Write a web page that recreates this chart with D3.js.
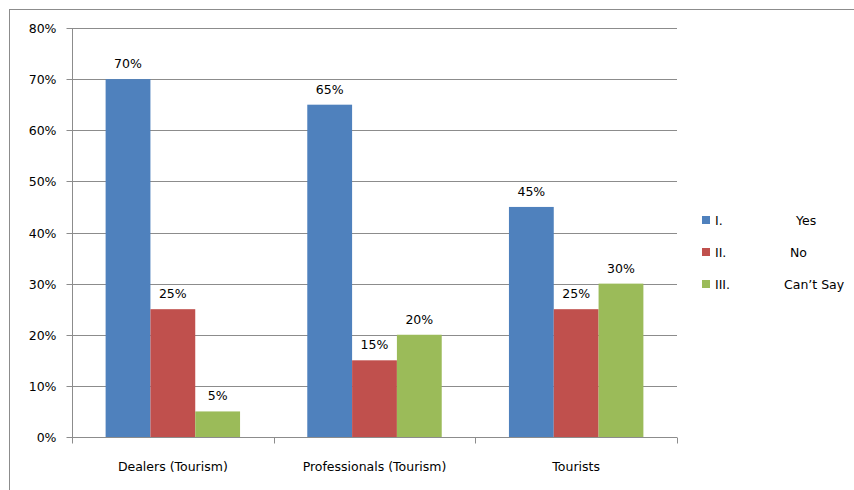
<!DOCTYPE html>
<html>
<head>
<meta charset="utf-8">
<script src="https://cdn.jsdelivr.net/npm/d3@7"></script>
<style>
  body { margin: 0; background: #fff; }
  text { font-family: "DejaVu Sans", sans-serif; fill: #000; }
</style>
</head>
<body>
<div id="chart"></div>
<script>
// data
const categories = ["Dealers (Tourism)", "Professionals (Tourism)", "Tourists"];
const seriesNames = ["I.", "II.", "III."];
const seriesAnswers = ["Yes", "No", "Can\u2019t Say"];
const yesValues = [70, 65, 45];
const noValues = [25, 15, 25];
const cantSayValues = [5, 20, 30];
const yTicks = [0, 10, 20, 30, 40, 50, 60, 70, 80];
const colors = ["#4F81BD", "#C0504D", "#9BBB59"];

const width = 854;
const height = 490;
const margin = { left: 72, right: 177, top: 28, bottom: 53 };
const fontSize = "12.5px";

const svg = d3.select("#chart")
  .append("svg")
  .attr("width", width)
  .attr("height", height);

// outer chart border (only top and left show inside the window)
svg.append("rect")
  .attr("x", 9.5)
  .attr("y", 9.5)
  .attr("width", width + 20)
  .attr("height", height + 20)
  .attr("fill", "none")
  .attr("stroke", "#8c8c8c");

const series = [yesValues, noValues, cantSayValues];

let yScale = d3.scaleLinear()
  .domain([0, 80])
  .range([height - margin.bottom, margin.top]);

let xScale = d3.scaleBand()
  .domain(d3.range(categories.length))
  .range([margin.left, width - margin.right]);

let inner = d3.scaleBand()
  .domain(d3.range(series.length))
  .range([0, xScale.bandwidth()])
  .paddingOuter(0.75)
  .paddingInner(0);

// gridlines
svg.append("g")
  .selectAll("line")
  .data(yTicks.filter(t => t > 0))
  .enter()
  .append("line")
  .attr("x1", margin.left)
  .attr("x2", width - margin.right)
  .attr("y1", d => Math.round(yScale(d)) + 0.5)
  .attr("y2", d => Math.round(yScale(d)) + 0.5)
  .attr("stroke", "#8c8c8c");

// bars
series.forEach((vals, s) => {
  svg.append("g")
    .selectAll("rect")
    .data(vals)
    .enter()
    .append("rect")
    .attr("x", (d, i) => xScale(i) + inner(s))
    .attr("y", d => yScale(d))
    .attr("width", inner.bandwidth())
    .attr("height", d => yScale(0) - yScale(d))
    .attr("fill", colors[s]);

  svg.append("g")
    .selectAll("text")
    .data(vals)
    .enter()
    .append("text")
    .attr("x", (d, i) => xScale(i) + inner(s) + inner.bandwidth() / 2)
    .attr("y", d => yScale(d) - 11)
    .attr("text-anchor", "middle")
    .attr("font-size", fontSize)
    .text(d => d + "%");
});

// y axis
const yAxis = svg.append("g")
  .attr("transform", `translate(${margin.left + 0.5}, 0)`)
  .call(d3.axisLeft(yScale).tickValues(yTicks).tickSize(6).tickPadding(10)
    .tickFormat(d => d + "%"));
yAxis.selectAll("text").attr("font-size", fontSize).attr("font-family", "DejaVu Sans, sans-serif");
yAxis.selectAll("line, path").attr("stroke", "#8c8c8c");
yAxis.select(".domain").attr("d", `M0,${margin.top}V${height - margin.bottom}`);
yAxis.selectAll(".tick").attr("transform", d => `translate(0,${Math.round(yScale(d)) + 0.5})`);

// x axis
const xAxis = svg.append("g")
  .attr("transform", `translate(0, ${Math.round(yScale(0)) + 0.5})`);
xAxis.append("line")
  .attr("x1", margin.left)
  .attr("x2", width - margin.right)
  .attr("stroke", "#8c8c8c");
xAxis.selectAll(".xt")
  .data(d3.range(categories.length + 1))
  .enter()
  .append("line")
  .attr("x1", i => Math.round(margin.left + i * xScale.step()) + 0.5)
  .attr("x2", i => Math.round(margin.left + i * xScale.step()) + 0.5)
  .attr("y1", 0)
  .attr("y2", 6)
  .attr("stroke", "#8c8c8c");
xAxis.selectAll(".xl")
  .data(categories)
  .enter()
  .append("text")
  .attr("x", (d, i) => xScale(i) + xScale.bandwidth() / 2)
  .attr("y", 33)
  .attr("text-anchor", "middle")
  .attr("font-size", fontSize)
  .text(d => d);

// legend
const legend = svg.append("g");
const answerX = [796, 790, 784];
seriesNames.forEach((name, s) => {
  const ly = 220 + s * 32;
  legend.append("rect")
    .attr("x", 702)
    .attr("y", ly - 4)
    .attr("width", 8)
    .attr("height", 8)
    .attr("fill", colors[s]);
  legend.append("text")
    .attr("x", 715)
    .attr("y", ly + 5)
    .attr("font-size", fontSize)
    .text(name);
  legend.append("text")
    .attr("x", answerX[s])
    .attr("y", ly + 5)
    .attr("font-size", fontSize)
    .text(seriesAnswers[s]);
});
</script>
</body>
</html>
